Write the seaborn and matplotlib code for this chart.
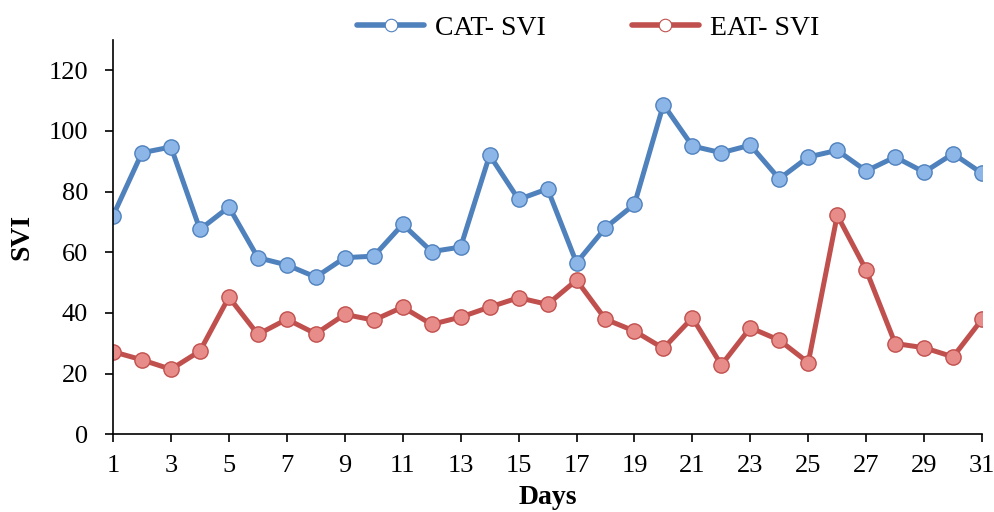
import matplotlib
matplotlib.use("Agg")
import matplotlib.pyplot as plt
from matplotlib.lines import Line2D
import seaborn as sns
import pandas as pd
import numpy as np

days = list(range(1, 32))
cat_svi = [72, 92.8, 94.7, 67.5, 74.9, 58.2, 55.8, 51.8, 58.2, 58.7, 69.2, 60.2, 61.7, 92, 77.4, 80.9,
           56.5, 68.1, 75.8, 108.7, 95, 92.8, 95.3, 84.2, 91.4, 93.6, 86.8, 91.4, 86.4, 92.5, 86]
eat_svi = [27.2, 24.5, 21.4, 27.4, 45.2, 32.9, 37.9, 33.1, 39.5, 37.6, 41.9, 36.2, 38.6, 41.9, 45, 42.8,
           50.8, 37.9, 34, 28.3, 38.4, 22.8, 35.1, 31, 23.6, 72.2, 54.1, 29.9, 28.5, 25.5, 37.9]
series_names = ["CAT- SVI", "EAT- SVI"]
colors = ["#4F81BD", "#C0504D"]
face_colors = ["#8DB6E8", "#E88C8A"]

sns.set_style("ticks")
plt.rcParams["font.family"] = ["Liberation Serif", "DejaVu Serif"]
plt.rcParams["text.color"] = "black"
plt.rcParams["axes.labelcolor"] = "black"
plt.rcParams["xtick.color"] = "black"
plt.rcParams["ytick.color"] = "black"

df = pd.DataFrame({
    "Days": days * 2,
    "SVI": cat_svi + eat_svi,
    "series": [series_names[0]] * len(days) + [series_names[1]] * len(days),
})

fig = plt.figure(figsize=(9.95, 5.12), dpi=100)
ax = fig.add_axes([0.1136, 0.152, 0.8734, 0.770])

for name, col, fc in zip(series_names, colors, face_colors):
    sub = df[df["series"] == name]
    sns.lineplot(data=sub, x="Days", y="SVI", ax=ax, color=col, linewidth=3.6,
                 marker="o", markersize=11, markerfacecolor=fc, markeredgecolor=col,
                 markeredgewidth=1.0, legend=False)

ax.set_xlim(1, 31)
ax.set_ylim(0, 130)
ax.set_xticks(list(range(1, 32, 2)))
ax.set_yticks(list(range(0, 121, 20)))
ax.tick_params(axis="both", labelsize=19, direction="out", length=6, width=1.2,
               colors="black", labelcolor="black")
ax.tick_params(axis="y", pad=12)
ax.tick_params(axis="x", pad=9)
for s in ["left", "bottom"]:
    ax.spines[s].set_linewidth(1.2)
    ax.spines[s].set_color("black")
sns.despine(ax=ax)
ax.set_xlabel("Days", fontsize=20, fontweight="bold", labelpad=6, color="black")
ax.set_ylabel("SVI", fontsize=20, fontweight="bold", labelpad=10, color="black")

handles = [Line2D([0], [0], color=c, linewidth=4, marker="o", markersize=9,
                  markerfacecolor="white", markeredgecolor=c, markeredgewidth=0.8)
           for c in colors]
leg = fig.legend(handles, series_names, loc="center", bbox_to_anchor=(0.591, 0.945), ncol=2,
                 frameon=False, fontsize=20, handlelength=2.4, columnspacing=3.1, handletextpad=0.4,
                 borderpad=0, borderaxespad=0)
for t in leg.get_texts():
    t.set_color("black")

fig.savefig("out.png", dpi=100)
